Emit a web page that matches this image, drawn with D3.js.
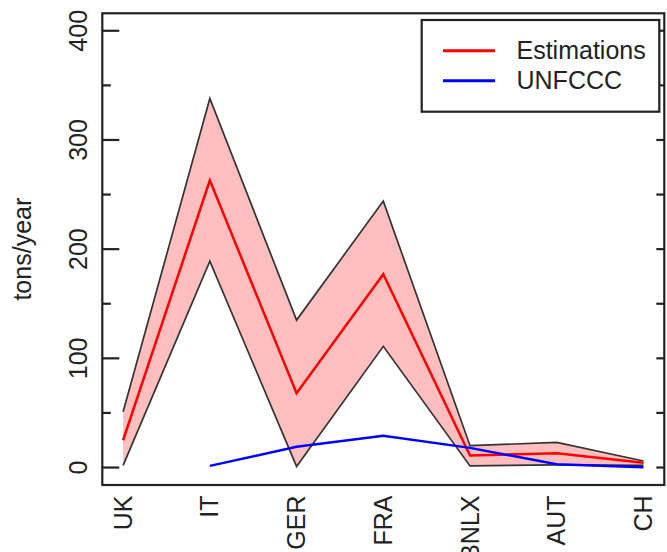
<!DOCTYPE html>
<html>
<head>
<meta charset="utf-8">
<script src="https://cdn.jsdelivr.net/npm/d3@7"></script>
<style>
  body { margin: 0; background: #fff; }
  svg { display: block; font-family: "Liberation Sans", Arial, sans-serif; }
</style>
</head>
<body>
<svg width="667" height="552"></svg>
<script>
const categories = ["UK", "IT", "GER", "FRA", "BNLX", "AUT", "CH"];
const estimations = [25, 263, 68, 177, 11, 13, 4.3];
const upper = [51, 338, 135, 244, 20, 23, 6];
const lower = [2, 189, 1, 111, 1.5, 2.5, 2];
const unfccc = [null, 1.5, 19, 29, 18, 3, 0.3];
const majorTicks = [0, 100, 200, 300, 400];
const minorTicks = [50, 150, 250, 350];
const legendLabels = ["Estimations", "UNFCCC"];

const fontSize = 25;
const plotLeft = 102.3, plotRight = 664.3, plotTop = 13.3, plotBottom = 485;

const svg = d3.select("svg");

const x = d3.scalePoint()
    .domain(categories)
    .range([plotLeft, plotRight])
    .padding(0.24);

const y = d3.scaleLinear()
    .domain([-16, 416])
    .range([plotBottom, plotTop]);

const rows = categories.map((c, i) => ({
    cat: c, est: estimations[i], hi: upper[i], lo: lower[i], un: unfccc[i]
}));

// confidence band
const area = d3.area()
    .x(d => x(d.cat))
    .y0(d => y(d.lo))
    .y1(d => y(d.hi));

svg.append("path")
    .datum(rows)
    .attr("d", area)
    .attr("fill", "#ffbfbf")
    .attr("stroke", "none");

const edge = key => d3.line().x(d => x(d.cat)).y(d => y(d[key]));

["hi", "lo"].forEach(k => {
    svg.append("path")
        .datum(rows)
        .attr("d", edge(k))
        .attr("fill", "none")
        .attr("stroke", "#333")
        .attr("stroke-width", 1.7);
});

svg.append("path")
    .datum(rows)
    .attr("d", edge("est"))
    .attr("fill", "none")
    .attr("stroke", "#ff0000")
    .attr("stroke-width", 2.5);

svg.append("path")
    .datum(rows)
    .attr("d", d3.line()
        .defined(d => d.un != null)
        .x(d => x(d.cat))
        .y(d => y(d.un)))
    .attr("fill", "none")
    .attr("stroke", "#0000ff")
    .attr("stroke-width", 2.5);

// frame
svg.append("rect")
    .attr("x", plotLeft)
    .attr("y", plotTop)
    .attr("width", plotRight - plotLeft)
    .attr("height", plotBottom - plotTop)
    .attr("fill", "none")
    .attr("stroke", "#222")
    .attr("stroke-width", 2.2);

// y ticks (inside), left side long for labelled ones
const yAx = svg.append("g");
yAx.selectAll("line.major")
    .data(majorTicks)
    .join("line")
    .attr("class", "major")
    .attr("x1", plotLeft).attr("x2", plotLeft + 17)
    .attr("y1", d => y(d)).attr("y2", d => y(d))
    .attr("stroke", "#222").attr("stroke-width", 2.2);
yAx.selectAll("line.minor")
    .data(minorTicks)
    .join("line")
    .attr("class", "minor")
    .attr("x1", plotLeft).attr("x2", plotLeft + 8.5)
    .attr("y1", d => y(d)).attr("y2", d => y(d))
    .attr("stroke", "#222").attr("stroke-width", 2.2);
yAx.selectAll("line.right")
    .data(majorTicks.concat(minorTicks))
    .join("line")
    .attr("class", "right")
    .attr("x1", plotRight - 8).attr("x2", plotRight)
    .attr("y1", d => y(d)).attr("y2", d => y(d))
    .attr("stroke", "#222").attr("stroke-width", 2.2);

yAx.selectAll("text")
    .data(majorTicks)
    .join("text")
    .attr("transform", d => `translate(86.5,${y(d)}) rotate(-90)`)
    .attr("text-anchor", "middle")
    .attr("font-size", fontSize)
    .attr("fill", "#222")
    .text(d => d);

svg.append("text")
    .attr("transform", `translate(31,${(plotTop + plotBottom) / 2}) rotate(-90)`)
    .attr("text-anchor", "middle")
    .attr("font-size", fontSize)
    .attr("fill", "#222")
    .text("tons/year");

// x labels, vertical
svg.append("g")
    .selectAll("text")
    .data(categories)
    .join("text")
    .attr("transform", d => `translate(${x(d) + 8.5},495.5) rotate(-90)`)
    .attr("text-anchor", "end")
    .attr("font-size", fontSize)
    .attr("fill", "#222")
    .text(d => d);

// legend
const legend = svg.append("g");
legend.append("rect")
    .attr("x", 421.7).attr("y", 20)
    .attr("width", 237.6).attr("height", 91.7)
    .attr("fill", "#fff")
    .attr("stroke", "#222")
    .attr("stroke-width", 2.2);

const legendColors = ["#ff0000", "#0000ff"];
legendLabels.forEach((lab, i) => {
    const ly = 50.7 + i * 30;
    legend.append("line")
        .attr("x1", 443).attr("x2", 495)
        .attr("y1", ly).attr("y2", ly)
        .attr("stroke", legendColors[i])
        .attr("stroke-width", 3);
    legend.append("text")
        .attr("x", 516.5)
        .attr("y", ly + 8.5)
        .attr("font-size", fontSize)
        .attr("fill", "#222")
        .text(lab);
});
</script>
</body>
</html>
